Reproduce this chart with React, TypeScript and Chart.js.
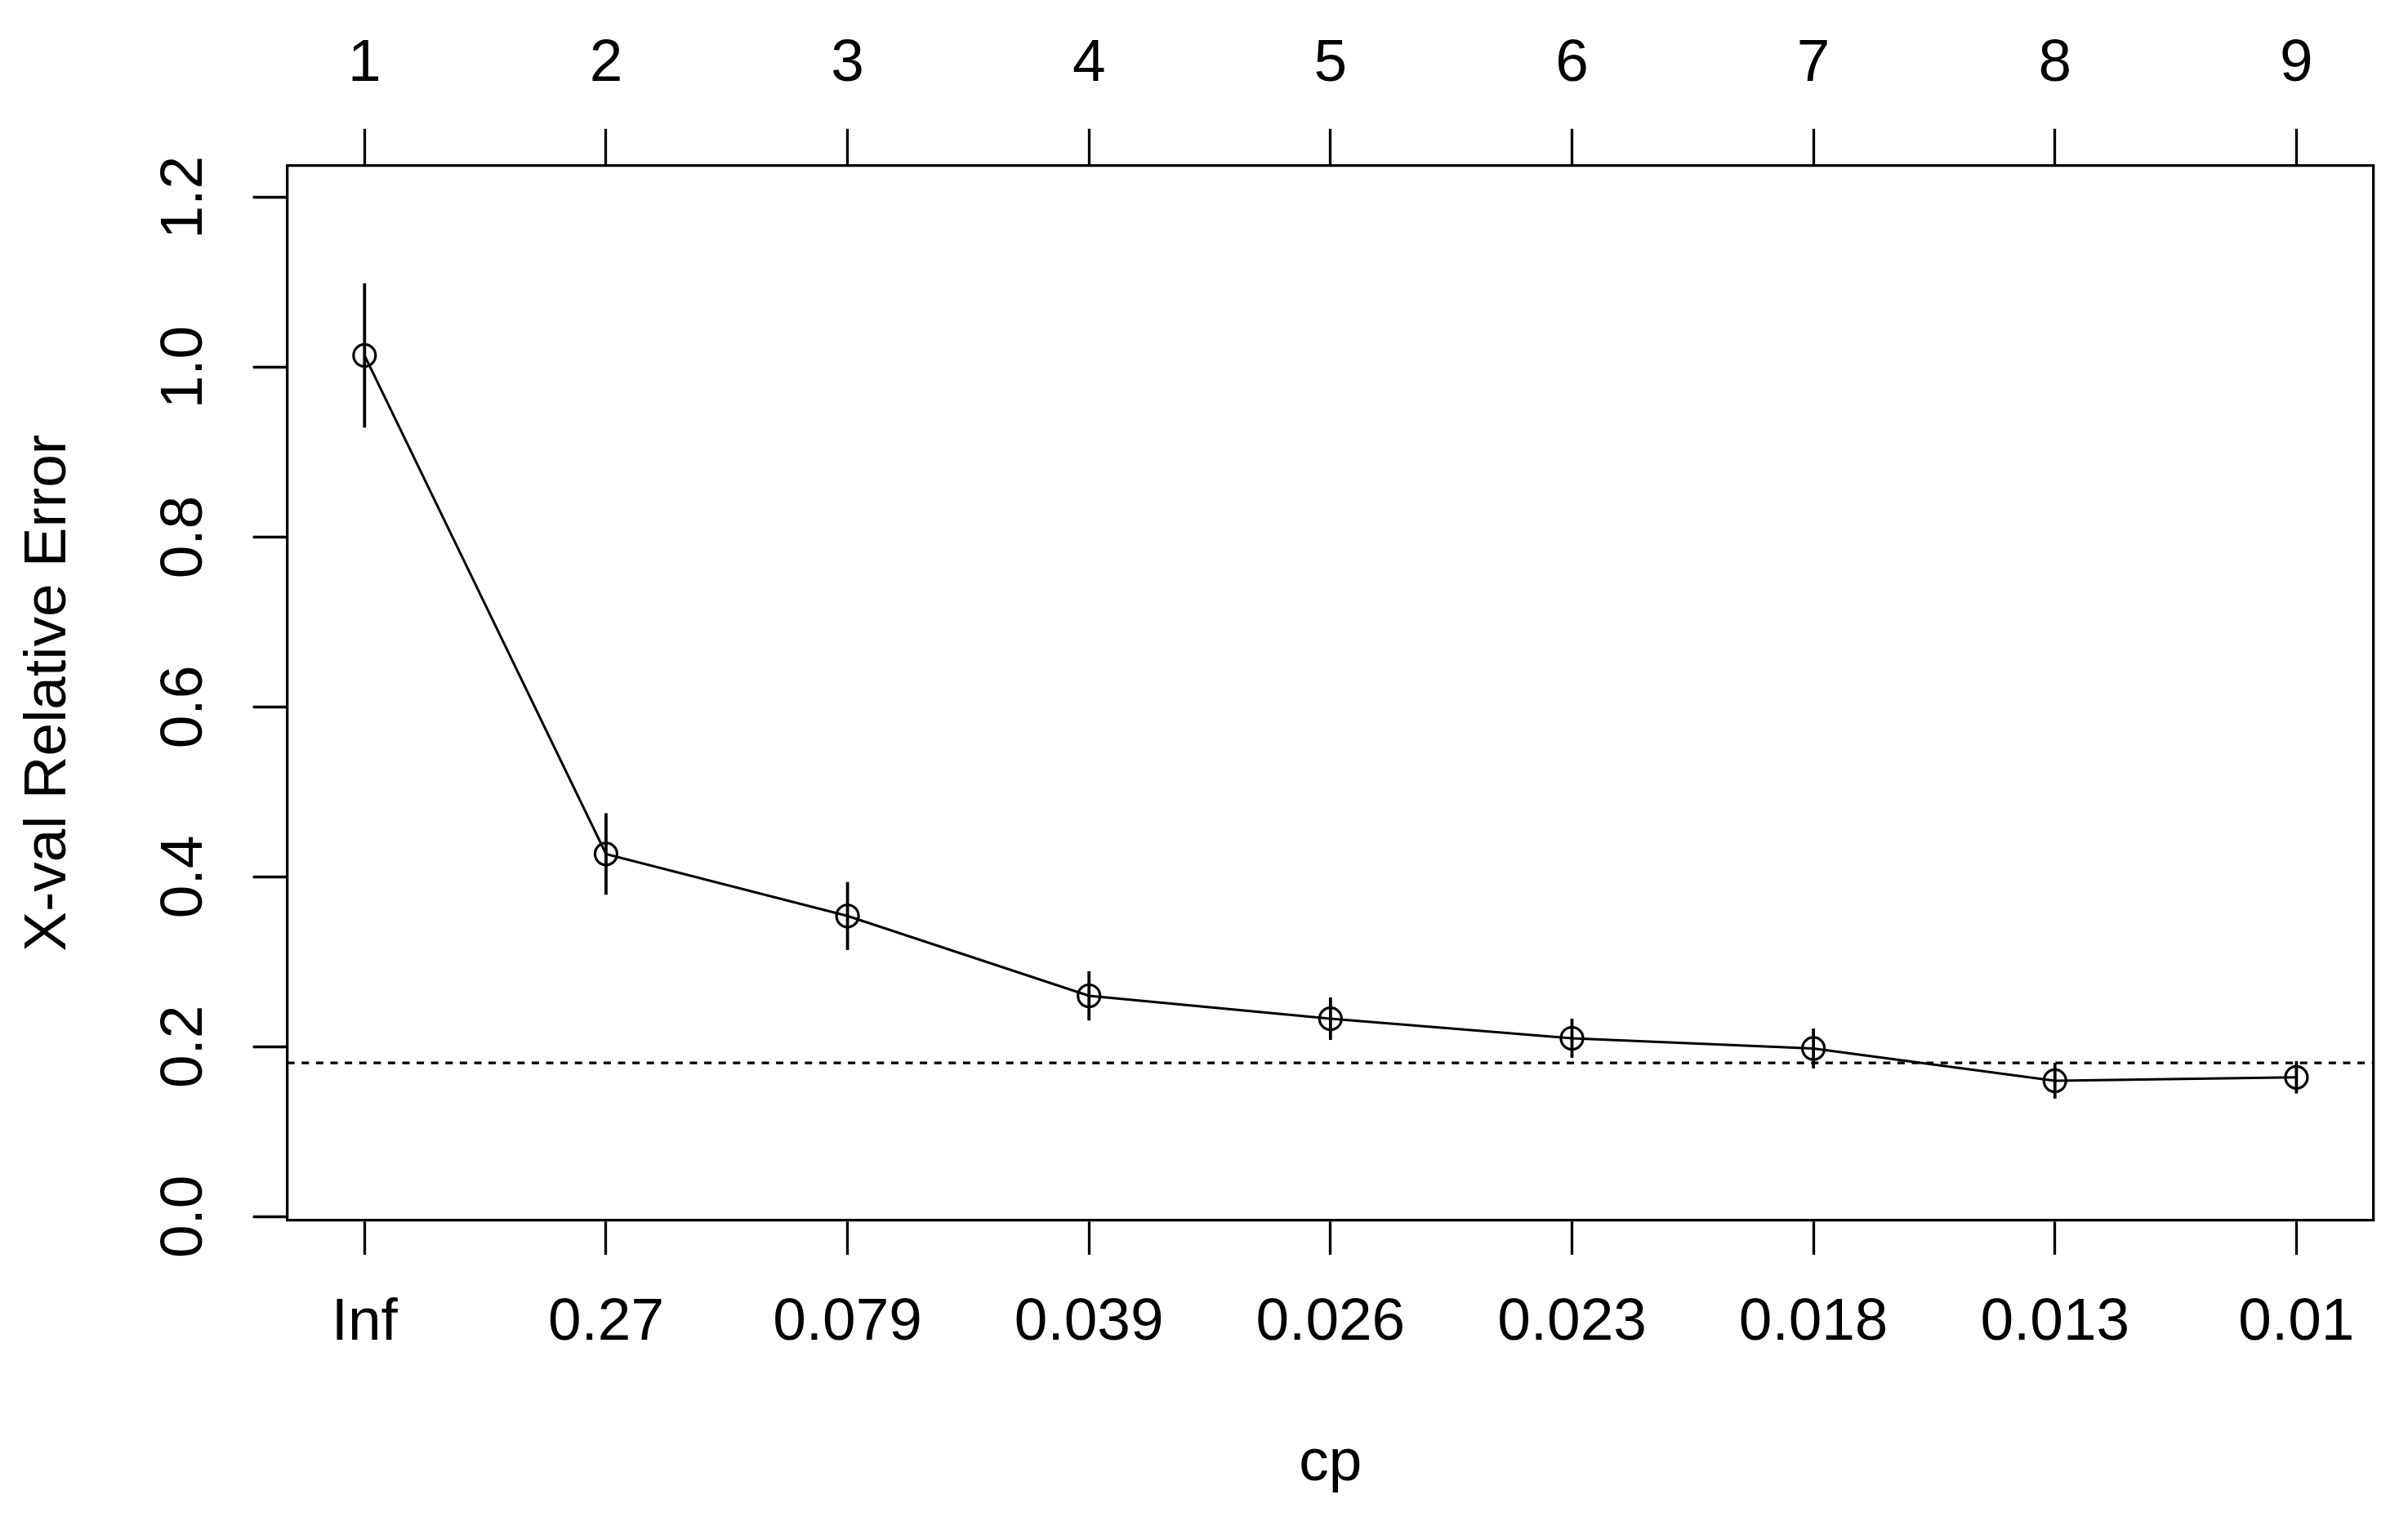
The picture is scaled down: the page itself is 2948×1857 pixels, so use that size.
import React, { useEffect, useRef } from 'react';
import { Chart, registerables } from 'chart.js';

Chart.register(...registerables);

// ---- data ----
const treeSizes = [1, 2, 3, 4, 5, 6, 7, 8, 9];
const cpLabels = ['Inf', '0.27', '0.079', '0.039', '0.026', '0.023', '0.018', '0.013', '0.01'];
const xerror = [1.014, 0.427, 0.354, 0.26, 0.233, 0.21, 0.198, 0.16, 0.164];
const xstd = [0.085, 0.048, 0.04, 0.029, 0.025, 0.023, 0.0235, 0.021, 0.019];
const yTicks = [0, 0.2, 0.4, 0.6, 0.8, 1.0, 1.2];
const xLimits = [0.68, 9.32];
const yLimits = [-0.0045, 1.2375];

// min xerror + its std (rpart's 1-SE reference line)
const minIdx = xerror.indexOf(Math.min(...xerror));
const threshold = xerror[minIdx] + xstd[minIdx];

const FONT = { family: "'Liberation Sans', Arial, sans-serif", size: 73 };
const BLACK = '#000000';

const errorBarPlugin = {
  id: 'cpErrorBars',
  beforeDatasetsDraw(chart: any) {
    const { ctx, chartArea } = chart;
    const xs = chart.scales.x;
    const ys = chart.scales.y;
    ctx.save();
    ctx.strokeStyle = BLACK;
    // dotted reference line
    ctx.lineWidth = 3.2;
    ctx.setLineDash([9, 8.6]);
    const ty = ys.getPixelForValue(threshold);
    ctx.beginPath();
    ctx.moveTo(chartArea.left, ty);
    ctx.lineTo(chartArea.right, ty);
    ctx.stroke();
    ctx.setLineDash([]);
    // error bars
    ctx.lineWidth = 3.8;
    treeSizes.forEach((s, i) => {
      const px = xs.getPixelForValue(s);
      ctx.beginPath();
      ctx.moveTo(px, ys.getPixelForValue(xerror[i] + xstd[i]));
      ctx.lineTo(px, ys.getPixelForValue(xerror[i] - xstd[i]));
      ctx.stroke();
    });
    ctx.restore();
  },
};

export default function App() {
  const ref = useRef<HTMLCanvasElement>(null);

  useEffect(() => {
    document.body.style.margin = '0';
    document.body.style.background = '#ffffff';
    const canvas = ref.current;
    if (!canvas) return;

    const axisGrid = (len: number) => ({
      display: true,
      drawOnChartArea: false,
      drawTicks: true,
      tickLength: len,
      tickWidth: 3.3,
      tickColor: BLACK,
    });
    const axisBorder = { display: true, color: BLACK, width: 3.3 };

    const chart = new Chart(canvas, {
      type: 'scatter',
      data: {
        datasets: [
          {
            label: 'xerror',
            data: treeSizes.map((s, i) => ({ x: s, y: xerror[i] })),
            showLine: true,
            borderColor: BLACK,
            borderWidth: 3,
            tension: 0,
            pointRadius: 13.5,
            pointHoverRadius: 13.5,
            pointBorderWidth: 3.2,
            pointBorderColor: BLACK,
            pointBackgroundColor: 'rgba(0,0,0,0)',
            pointStyle: 'circle',
            xAxisID: 'x',
            yAxisID: 'y',
          },
        ],
      },
      options: {
        animation: false,
        responsive: false,
        maintainAspectRatio: false,
        layout: { padding: 0 },
        plugins: {
          legend: { display: false },
          tooltip: { enabled: false },
        },
        scales: {
          x: {
            type: 'linear',
            position: 'bottom',
            min: xLimits[0],
            max: xLimits[1],
            afterBuildTicks: (scale: any) => {
              scale.ticks = treeSizes.map((v) => ({ value: v }));
            },
            afterFit: (scale: any) => {
              scale.height = 363;
            },
            grid: axisGrid(42),
            border: axisBorder,
            ticks: {
              padding: 40,
              font: FONT,
              color: BLACK,
              autoSkip: false,
              maxRotation: 0,
              minRotation: 0,
              callback: (_v: any, i: number) => cpLabels[i],
            },
            title: {
              display: true,
              text: 'cp',
              font: FONT,
              color: BLACK,
              padding: { top: 0, bottom: 21.5 },
            },
          },
          x2: {
            type: 'linear',
            position: 'top',
            min: xLimits[0],
            max: xLimits[1],
            afterBuildTicks: (scale: any) => {
              scale.ticks = treeSizes.map((v) => ({ value: v }));
            },
            afterFit: (scale: any) => {
              scale.height = 202.7;
            },
            grid: axisGrid(45),
            border: axisBorder,
            ticks: {
              padding: 35,
              font: FONT,
              color: BLACK,
              autoSkip: false,
              maxRotation: 0,
              minRotation: 0,
              callback: (_v: any, i: number) => String(treeSizes[i]),
            },
          },
          y: {
            type: 'linear',
            position: 'left',
            min: yLimits[0],
            max: yLimits[1],
            afterBuildTicks: (scale: any) => {
              scale.ticks = yTicks.map((v) => ({ value: v }));
            },
            afterFit: (scale: any) => {
              scale.width = 351.7;
            },
            grid: axisGrid(42),
            border: axisBorder,
            ticks: {
              padding: 32.5,
              font: FONT,
              color: BLACK,
              autoSkip: false,
              crossAlign: 'center',
              minRotation: 90,
              maxRotation: 90,
              callback: (v: any) => Number(v).toFixed(1),
            },
            title: {
              display: true,
              text: 'X-val Relative Error',
              font: FONT,
              color: BLACK,
              padding: { top: 16, bottom: 0 },
            },
          },
          y2: {
            type: 'linear',
            position: 'right',
            min: yLimits[0],
            max: yLimits[1],
            afterFit: (scale: any) => {
              scale.width = 42;
            },
            grid: { display: false, drawTicks: false, drawOnChartArea: false },
            border: axisBorder,
            ticks: { display: false },
          },
        },
      } as any,
      plugins: [errorBarPlugin],
    });

    return () => {
      chart.destroy();
    };
  }, []);

  return (
    <div
      style={{
        position: 'absolute',
        left: 0,
        top: 0,
        width: 2948,
        height: 1857,
        background: '#ffffff',
      }}
    >
      <canvas
        ref={ref}
        width={2948}
        height={1857}
        style={{ display: 'block', width: 2948, height: 1857 }}
      />
    </div>
  );
}
